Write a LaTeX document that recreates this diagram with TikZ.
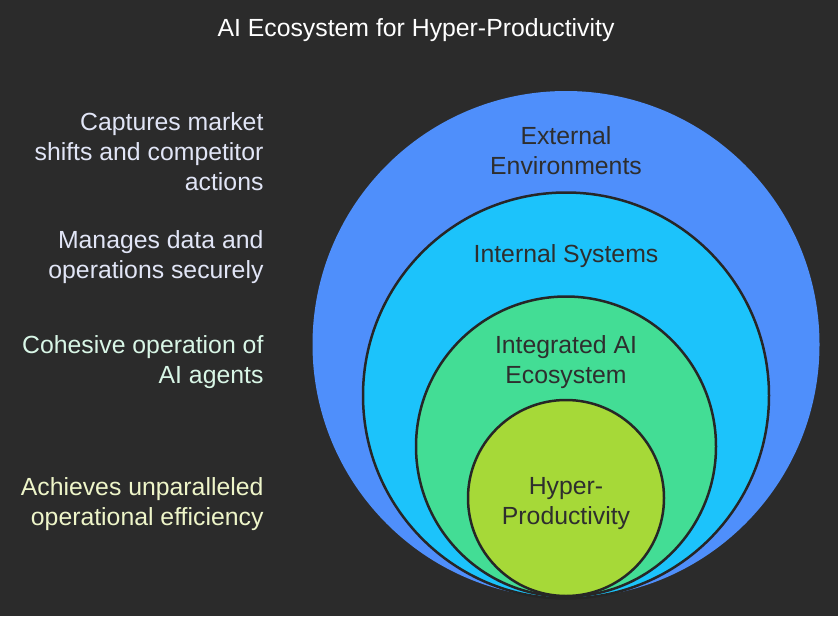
\documentclass[tikz,border=0pt]{standalone}
\usepackage{fontspec}
\setmainfont{Liberation Sans}
\usetikzlibrary{positioning}
\definecolor{bgdark}{HTML}{2B2B2B}
\definecolor{ringline}{HTML}{262626}
\definecolor{ringtxt}{HTML}{2E2E2E}
\definecolor{extblue}{HTML}{4F8FFB}
\definecolor{intcyan}{HTML}{1CC3FB}
\definecolor{aigreen}{HTML}{43DD95}
\definecolor{hplime}{HTML}{A6D938}
\definecolor{lavtxt}{HTML}{E1E5F6}
\definecolor{minttxt}{HTML}{D8F6E6}
\definecolor{lemontxt}{HTML}{EEF5C9}
\begin{document}
\begin{tikzpicture}[x=1pt, y=-1pt,
    ring/.style={circle, draw=ringline, line width=2.5pt, inner sep=0pt},
    ringtext/.style={text=ringtxt, align=center, font=\fontsize{24.8}{30}\selectfont},
    sidetext/.style={anchor=east, align=right, font=\fontsize{24.8}{30}\selectfont}]
    \fill[bgdark] (0,0) rectangle (838,616);
    \useasboundingbox (0,0) rectangle (838,616);

    \node [text=white, font=\fontsize{24.8}{30}\selectfont] (title) at (416,30) {AI Ecosystem for Hyper-Productivity};

    % nested circles, all touching at the bottom
    \node [circle, fill=extblue, inner sep=0pt, minimum size=507pt] (external) at (566,344.5) {};
    \node [ring, fill=intcyan, minimum size=406pt] (internal) at (566,395.5) {};
    \node [ring, fill=aigreen, minimum size=300pt] (integrated) at (566,446.5) {};
    \node [ring, fill=hplime, minimum size=196pt] (hyper) at (566,498) {};

    \node [ringtext] (externallabel) at (566,151) {External\\Environments};
    \node [ringtext] (internallabel) at (566,256) {Internal Systems};
    \node [ringtext] (integratedlabel) at (566,362) {Integrated AI\\Ecosystem};
    \node [ringtext] (hyperlabel) at (566,504) {Hyper-\\Productivity};

    % descriptions on the left
    \node [sidetext, text=lavtxt] (externaldesc) at (267,152) {Captures market\\shifts and competitor\\actions};
    \node [sidetext, text=lavtxt] (internaldesc) at (267,257) {Manages data and\\operations securely};
    \node [sidetext, text=minttxt] (integrateddesc) at (267,362) {Cohesive operation of\\AI agents};
    \node [sidetext, text=lemontxt] (hyperdesc) at (267,504) {Achieves unparalleled\\operational efficiency};
\end{tikzpicture}
\end{document}
